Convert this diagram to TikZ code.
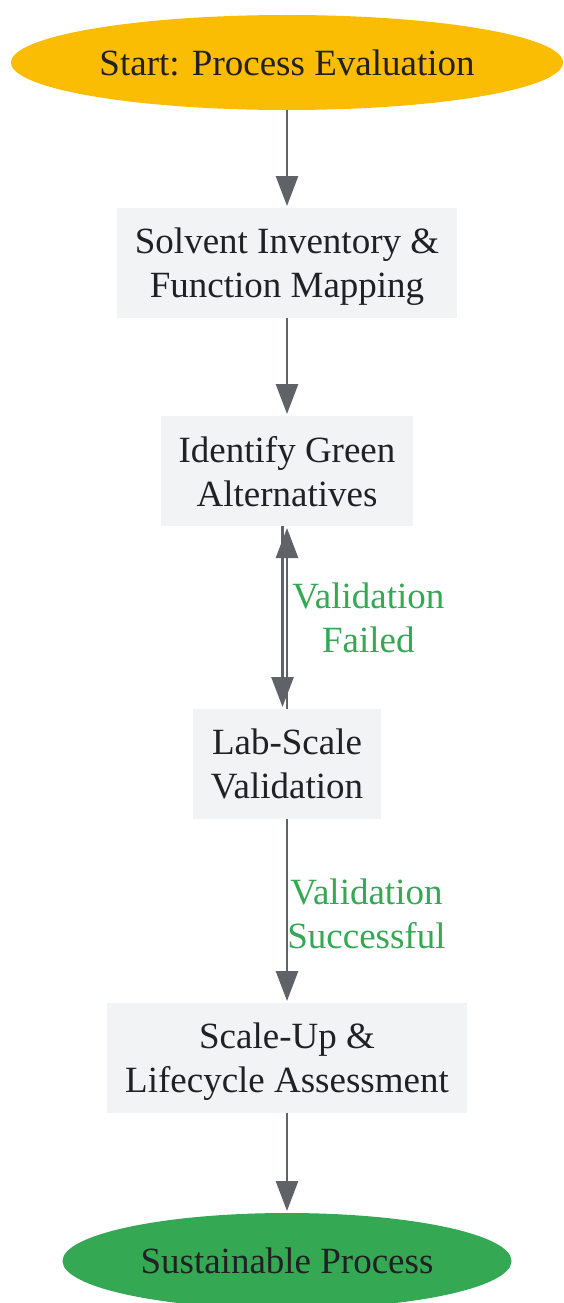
\documentclass[tikz,border=0pt]{standalone}
\usepackage{fontspec}
\setmainfont{Liberation Serif}
\usetikzlibrary{arrows.meta}
\usetikzlibrary{positioning}
\usetikzlibrary{shapes.geometric}

\definecolor{startyellow}{HTML}{FBBC04}
\definecolor{endgreen}{HTML}{34A853}
\definecolor{boxgray}{HTML}{F1F3F4}
\definecolor{edgegray}{HTML}{5F6368}
\definecolor{textdark}{HTML}{202124}

\begin{document}
\begin{tikzpicture}[
    >={Triangle[length=30pt,width=22pt]},
    every node/.style={font=\fontsize{37pt}{44pt}\selectfont, text=textdark, outer sep=0pt},
    process/.style={rectangle, fill=boxgray, align=center, minimum height=110pt, inner xsep=18pt, text depth=-6pt},
    startstop/.style={ellipse, align=center, minimum height=95pt},
    flow/.style={->, draw=edgegray, line width=2.8pt, shorten >=2pt},
    edgelabel/.style={text=endgreen, align=center, anchor=west}
]
\useasboundingbox (0pt,0pt) rectangle (563pt,-1303pt);

% Nodes
\node[startstop, fill=startyellow, minimum width=552pt] (start) at (287pt,-62.5pt) {Start: Process Evaluation};
\node[process, below=98pt of start] (inventory) {Solvent Inventory \&\\Function Mapping};
\node[process, below=98pt of inventory] (identify) {Identify Green\\Alternatives};
\node[process, below=183pt of identify] (labscale) {Lab-Scale\\Validation};
\node[process, below=184pt of labscale] (scaleup) {Scale-Up \&\\Lifecycle Assessment};
\node[startstop, fill=endgreen, minimum width=449pt, minimum height=96pt, below=100pt of scaleup] (sustain) {Sustainable Process};

% Edges
\draw[flow] (start) -- (inventory);
\draw[flow] (inventory) -- (identify);
\draw[flow] ([xshift=-4.5pt]identify.south) -- ([xshift=-4.5pt]labscale.north);
\draw[flow] (labscale.north) -- (identify.south) node[edgelabel, midway, xshift=2pt] {Validation\\Failed};
\draw[flow] (labscale) -- (scaleup) node[edgelabel, midway, xshift=-3pt, yshift=-3pt] {Validation\\Successful};
\draw[flow] (scaleup) -- (sustain);

\end{tikzpicture}
\end{document}
